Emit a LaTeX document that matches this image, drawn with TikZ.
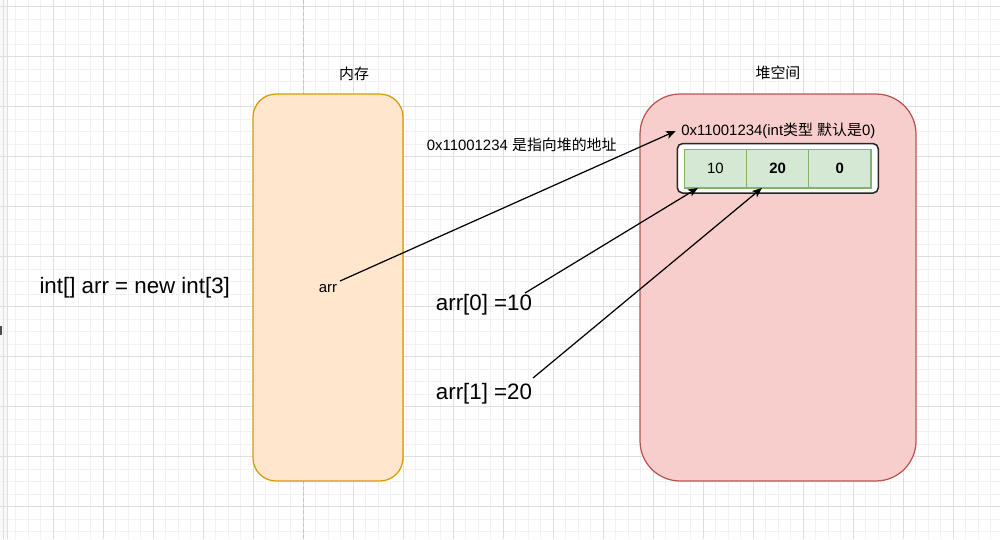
\documentclass[tikz,border=0pt]{standalone}
\usepackage{fontspec}
\setmainfont{Liberation Sans}
\newfontfamily\cjk{Noto Sans CJK SC}
\usetikzlibrary{arrows.meta,positioning}

\definecolor{memfill}{HTML}{FFE6CC}
\definecolor{memline}{HTML}{D79B00}
\definecolor{heapfill}{HTML}{F8CECC}
\definecolor{heapline}{HTML}{B85450}
\definecolor{cellfill}{HTML}{D5E8D4}
\definecolor{cellline}{HTML}{82B366}
\definecolor{gridmajor}{HTML}{DEDEDE}
\definecolor{gridminor}{HTML}{F1F1F1}

\tikzset{
    txt/.style={font=\fontsize{8.5pt}{10pt}\selectfont, inner sep=0pt},
    bigtxt/.style={font=\fontsize{12.7pt}{15pt}\selectfont, inner sep=0pt},
    ptr/.style={-{Stealth[length=5.5pt,width=4.5pt,inset=1.3pt]}, line width=0.7pt},
    arrcell/.style={draw=cellline, fill=cellfill, line width=0.7pt, txt,
        minimum width=1.246cm, minimum height=0.774cm, outer sep=0pt},
}

\begin{document}
\begin{tikzpicture}[x=0.02cm, y=-0.02cm]
        \useasboundingbox (0,0) rectangle (1000,539);

        % ~~~~ Grid ~~~~ %
        \fill[gray!5] (0,0) rectangle (7,539);
        \foreach \i in {0,...,79}
            \draw[gridminor, line width=0.55pt] ({3.3+12.5*\i},0) -- ({3.3+12.5*\i},539);
        \foreach \i in {0,...,42}
            \draw[gridminor, line width=0.55pt] (0,{6.7+12.5*\i}) -- (1000,{6.7+12.5*\i});
        \foreach \i in {0,...,19}
            \draw[gridmajor, line width=0.55pt] ({3.3+50*\i},0) -- ({3.3+50*\i},539);
        \foreach \i in {0,...,10}
            \draw[gridmajor, line width=0.55pt] (0,{6.7+50*\i}) -- (1000,{6.7+50*\i});
        \draw[gray!25, line width=0.5pt] (7,0) -- (7,539);
        \draw[gray!60!black, line width=0.6pt] (1,326) -- (1,335);
        \draw[gray!45, line width=0.8pt, dash pattern=on 2.3pt off 1.2pt] (303.3,0) -- (303.3,539);

        % ~~~~ Memoria y heap ~~~~ %
        \node[draw=memline, fill=memfill, line width=0.7pt, rounded corners=0.46cm,
            minimum width=3cm, minimum height=7.74cm] (mem) at (328,287.5) {};
        \node[draw=heapline, fill=heapfill, line width=0.7pt, rounded corners=0.8cm,
            minimum width=5.52cm, minimum height=7.74cm] (heap) at (778,287.5) {};
        \node[txt] (memlbl) at (354,74) {{\cjk 内存}};
        \node[txt] (heaplbl) at (778,73) {{\cjk 堆空间}};

        % ~~~~ Array ~~~~ %
        \node[draw=black!85, fill=white, line width=0.85pt, rounded corners=3pt,
            minimum width=4.02cm, minimum height=0.99cm] (arrbox) at (777.8,168.3) {};
        \node[arrcell] (c1) at (715.3,168.6) {10};
        \node[arrcell, right=0pt of c1] (c2) {\bfseries 20};
        \node[arrcell, right=0pt of c2] (c3) {\bfseries 0};
        \node[txt, inner sep=3pt] (addr) at (778.3,131)
            {0x11001234(int{\cjk 类型} {\cjk 默认是}0)};

        % ~~~~ Textos ~~~~ %
        \node[bigtxt] (decl) at (134.7,288) {int[] arr = new int[3]};
        \node[txt] (arr) at (328,288.5) {arr};
        \node[txt] (ptrlbl) at (521.7,144.5) {0x11001234 {\cjk 是指向堆的地址}};
        \node[bigtxt] (a0) at (484,305) {arr[0] =10};
        \node[bigtxt] (a1) at (484,393.5) {arr[1] =20};

        % ~~~~ Flechas ~~~~ %
        \coordinate (arrtail) at (340,281);
        \coordinate (a0tail) at (525,293);
        \coordinate (a1tail) at (533,378);
        \draw[ptr] (arrtail) -- (addr.west);
        \draw[ptr] (a0tail) -- (c1.228);
        \draw[ptr] (a1tail) -- (c2.231);
\end{tikzpicture}
\end{document}
